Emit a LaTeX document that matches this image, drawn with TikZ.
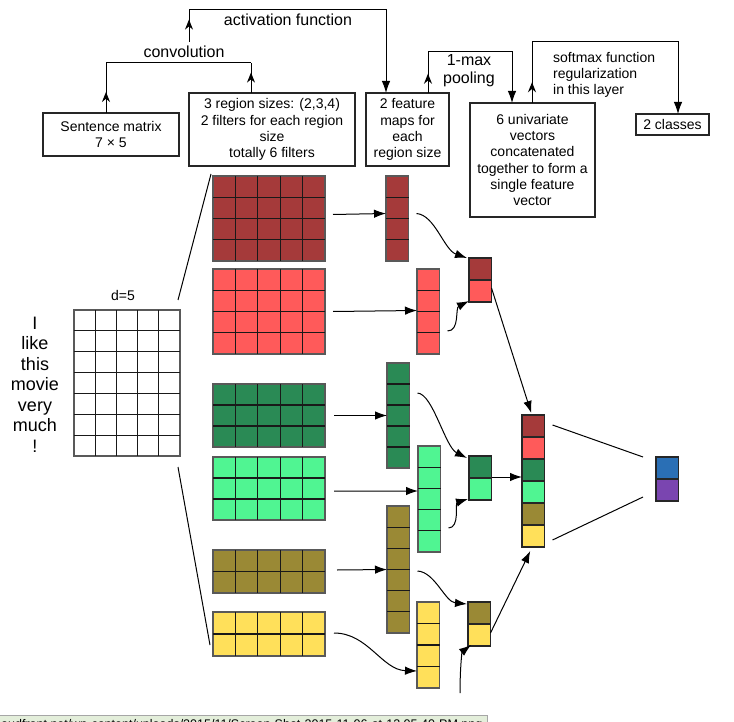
\documentclass[tikz,border=0pt]{standalone}
\usepackage{fontspec}
\setmainfont{Liberation Sans}
\usetikzlibrary{arrows.meta,decorations.markings}
\definecolor{cdr}{HTML}{A53A3A}
\definecolor{cr}{HTML}{FF5A5A}
\definecolor{cdg}{HTML}{2A8A55}
\definecolor{clg}{HTML}{50F592}
\definecolor{cvol}{HTML}{9A8935}
\definecolor{cy}{HTML}{FFE05A}
\definecolor{cbl}{HTML}{2A6FB5}
\definecolor{cpu}{HTML}{7A45B0}
\definecolor{urlbg}{HTML}{E3EEDA}
% name, x, y, cols, rows, cell w, cell h, colour
\newcommand\cellgrid[8]{%
  \node[gridbox, fill=#8, minimum width={#4*#6}, minimum height={#5*#7}, anchor=north west] (#1) at (#2,#3) {};
  \ifnum#4>1 \foreach \i in {2,...,#4} {\draw[gridline] ([xshift={(\i-1)*#6}]#1.north west) -- ([xshift={(\i-1)*#6}]#1.south west);}\fi
  \ifnum#5>1 \foreach \j in {2,...,#5} {\draw[gridline] ([yshift={-(\j-1)*#7}]#1.north west) -- ([yshift={-(\j-1)*#7}]#1.north east);}\fi
}
\newcommand\onecell[4]{% name, x, y, colour
  \node[gridbox, draw=black!85, fill=#4, minimum width=22.5, minimum height=22, anchor=north west] (#1) at (#2,#3) {};
}
\begin{document}
\begin{tikzpicture}[x=1pt,y=-1pt,
  box/.style={draw=black!85, line width=1.2pt, inner sep=0, outer sep=0, align=center, font=\fontsize{14}{16.2}\selectfont},
  lbl/.style={font=\fontsize{16}{18}\selectfont, inner sep=0, align=center},
  gridbox/.style={draw=black!65, line width=1.1pt, inner sep=0, outer sep=0},
  gridline/.style={black!90, line width=1.25pt},
  arr/.style={-{Latex[length=12pt,width=8.5pt]}, line width=1pt},
  conn/.style={line width=1pt},
  midarrow/.style={postaction={decorate}, decoration={markings, mark=at position #1 with {\arrow{Stealth[length=10pt,width=8pt]}}}}
]
\useasboundingbox (0,0) rectangle (734,722);
\clip (0,0) rectangle (734,722);

% ---------- top boxes ----------
\node[box, minimum width=136, minimum height=43] (sm) at (111,134.5) {Sentence matrix\\7 × 5};
\node[box, minimum width=166, minimum height=73] (rs) at (272,129.5) {3 region sizes: (2,3,4)\\2 filters for each region\\size\\totally 6 filters};
\node[box, minimum width=83, minimum height=73] (fm) at (407.5,129.5) {2 feature\\maps for\\each\\region size};
\node[box, minimum width=125, minimum height=114] (uv) at (532.5,160) {6 univariate\\vectors\\concatenated\\together to form a\\single feature\\vector};
\node[box, minimum width=73, minimum height=21] (cl) at (672.5,124.5) {2 classes};

% ---------- top connectors ----------
\coordinate (cvL) at (106,63);
\coordinate (cvR) at (251,63);
\draw[conn, midarrow=0.42] ([xshift=-5]sm.north) -- (cvL);
\draw[conn, midarrow=0.68] ([xshift=-21]rs.north) -- (cvR);
\draw[conn] (cvL) -- (cvR);
\node[lbl] (convlbl) at (184,52) {convolution};

\coordinate (actS) at (189,42);
\coordinate (actT) at (189,10);
\draw[conn, midarrow=0.7] (actS) -- (actT);
\draw[arr] (actT) -| ([xshift=-21.5]fm.north);
\node[lbl] (actlbl) at (288,20) {activation function};

\coordinate (poolT) at (428,52);
\draw[conn, midarrow=0.47] ([xshift=20.5]fm.north) -- (poolT);
\draw[arr] (poolT) -| ([xshift=-20.5]uv.north);
\node[lbl] (poollbl) at (469,71) {1-max\\pooling};

\coordinate (smT) at (532,42);
\draw[conn, midarrow=0.34] ([xshift=-0.5]uv.north) -- (smT);
\draw[arr] (smT) -| ([xshift=5.5]cl.north);
\node[font=\fontsize{14}{16}\selectfont, inner sep=0, align=left, anchor=west] (smlbl) at (553,75) {softmax function\\regularization\\in this layer};

% ---------- sentence ----------
\node[font=\fontsize{18}{20.5}\selectfont, inner sep=0, align=center] (words) at (35,384.5) {I\\like\\this\\movie\\very\\much\\!};
\node[font=\fontsize{14}{16}\selectfont, inner sep=0] (dlbl) at (123,295) {d=5};
\cellgrid{mat}{74}{310}{5}{7}{21.2}{20.86}{white}

% ---------- filters ----------
\cellgrid{f1}{213}{176}{5}{4}{22.4}{21.25}{cdr}
\cellgrid{f2}{213}{269}{5}{4}{22.4}{21.25}{cr}
\cellgrid{f3}{213}{384}{5}{3}{22.4}{21}{cdg}
\cellgrid{f4}{213}{457}{5}{3}{22.4}{21}{clg}
\cellgrid{f5}{213}{550}{5}{2}{22.4}{21.5}{cvol}
\cellgrid{f6}{213}{612}{5}{2}{22.4}{22}{cy}

\draw[conn] ([xshift=-2,yshift=10]mat.north east) -- ([xshift=-2,yshift=2]f1.north west);
\draw[conn] ([xshift=-2,yshift=-11]mat.south east) -- ([xshift=-3,yshift=11]f6.south west);

% ---------- feature maps ----------
\cellgrid{m1}{386}{176}{1}{4}{22.5}{21.25}{cdr}
\cellgrid{m2}{417}{269}{1}{4}{22.5}{21.25}{cr}
\cellgrid{m3}{387}{363}{1}{5}{22.5}{21}{cdg}
\cellgrid{m4}{418}{446}{1}{5}{22.5}{21.2}{clg}
\cellgrid{m5}{387}{506}{1}{6}{22.5}{21.17}{cvol}
\cellgrid{m6}{417}{602}{1}{4}{22.5}{21.5}{cy}

\draw[arr] ([xshift=8,yshift=4]f1.east) -- ([yshift=5]m1.west);
\draw[arr] ([xshift=8]f2.east) -- ([yshift=1]m2.west);
\draw[arr] ([xshift=9]f3.east) -- (m3.west |- f3.east);
\draw[arr] ([xshift=9,yshift=-2.5]f4.east) -- ([yshift=8]m4.west);
\draw[arr] ([xshift=12,yshift=1.5]f5.east) -- (m5.west);
\draw[arr] ([xshift=9,yshift=1]f6.east) .. controls (368,633) and (382,670) .. ([yshift=-26]m6.west);

% ---------- pooled ----------
\onecell{p1a}{469}{258}{cdr}
\onecell{p1b}{469}{280}{cr}
\onecell{p2a}{469}{456}{cdg}
\onecell{p2b}{469}{478}{clg}
\onecell{p3a}{468}{602}{cvol}
\onecell{p3b}{468}{624}{cy}

\draw[arr] ([xshift=8,yshift=5]m1.east) .. controls (435,215) and (444,250) .. ([xshift=-2]p1a.north west);
\draw[arr] ([xshift=8,yshift=-19.5]m2.east) .. controls (460,331) and (455,308) .. ([yshift=1]p1b.south west);
\draw[arr] ([xshift=8,yshift=-30]m3.north east) .. controls (433,394) and (445,447) .. ([xshift=-2,yshift=-2]p2a.north west);
\draw[arr] ([xshift=8,yshift=-29]m4.east) .. controls (460,528) and (455,503) .. ([xshift=-1,yshift=1]p2b.south west);
\draw[arr] ([xshift=8,yshift=-1.5]m5.east) .. controls (435,572) and (445,602) .. ([xshift=-1,yshift=-2]p3a.north west);
\coordinate (ytail) at (460,693);
\draw[arr] (ytail) .. controls (460,668) and (462,652) .. ([xshift=3,yshift=1]p3b.south west);

% ---------- concatenated ----------
\onecell{c1}{522}{415}{cdr}
\onecell{c2}{522}{437}{cr}
\onecell{c3}{522}{459}{cdg}
\onecell{c4}{522}{481}{clg}
\onecell{c5}{522}{503}{cvol}
\onecell{c6}{522}{525}{cy}

\draw[arr] ([yshift=3]p1b.east) -- ([xshift=-2,yshift=2]c1.north);
\draw[arr] ([yshift=1]p2a.south east) -- ([yshift=1]p2a.south east -| c3.west);
\draw[arr] ([yshift=2]p3b.east) -- ([xshift=-3,yshift=-4]c6.south);

% ---------- output ----------
\onecell{o1}{656}{457}{cbl}
\onecell{o2}{656}{479}{cpu}
\draw[conn] ([xshift=8,yshift=1]c1.east) -- ([xshift=-13,yshift=11]o1.west);
\draw[conn] ([xshift=8,yshift=-4]c6.east) -- ([xshift=-13,yshift=-7]o2.west);

% ---------- status bar ----------
\node[fill=urlbg, draw=black!35, anchor=north west, inner xsep=2, inner ysep=4, text height=9, text depth=3, text width=484, align=left, font=\fontsize{12.5}{14}\selectfont] (url) at (-1,715) {oudfront.net/wp-content/uploads/2015/11/Screen-Shot-2015-11-06-at-12.05.40-PM.png};
\end{tikzpicture}
\end{document}
